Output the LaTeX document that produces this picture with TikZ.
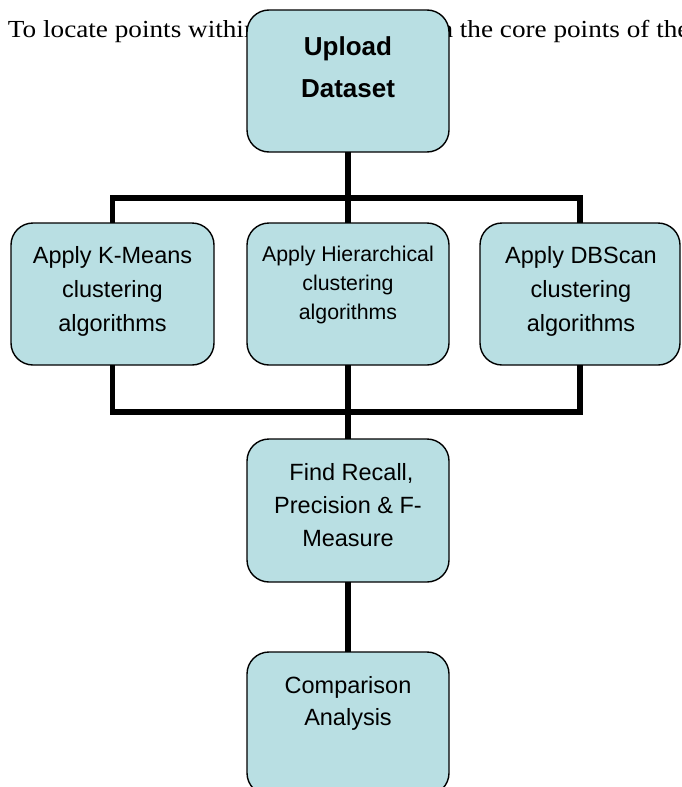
\documentclass[tikz,border=0pt]{standalone}
\usepackage{fontspec}
\setmainfont{Liberation Serif}
\newfontfamily\arialfont{Liberation Sans}
\newfontfamily\bodyfont[FakeStretch=1.11]{Liberation Serif}
\definecolor{boxfill}{RGB}{185,223,227}
\tikzset{
  box/.style={draw=black, line width=1.4pt, fill=boxfill, rounded corners=22pt,
    minimum width=202pt, minimum height=142pt, inner sep=0pt, outer sep=0pt},
  link/.style={line width=5.5pt, line join=miter, draw=black},
  lbl/.style={align=center, anchor=north, inner sep=0pt, outer sep=0pt},
  bodytext/.style={anchor=base west, inner sep=0pt, outer sep=0pt,
    font={\bodyfont\fontsize{24.5}{30}\selectfont}}
}
\begin{document}
\begin{tikzpicture}[x=1pt,y=-1pt]
\useasboundingbox (0,0) rectangle (681,787);
\clip (0,0) rectangle (681,787);
% running text behind the top box
\node[bodytext] (t1) at (8,37) {To locate points within};
\node[bodytext] (t2) at (439.5,37) {n the core points of the};
% boxes
\node[box] (up) at (348,81) {};
\node[box, minimum width=203pt] (km) at (112.5,294) {};
\node[box] (hi) at (348,294) {};
\node[box, minimum width=200pt] (db) at (580,294) {};
\node[box, minimum height=143pt] (fr) at (348,510.5) {};
\node[box, minimum height=143pt] (ca) at (348,723.5) {};
% labels
\node[lbl, font={\arialfont\bfseries\fontsize{26}{42}\selectfont}] (upt) at (348,36.4) {Upload\\Dataset};
\node[lbl, font={\arialfont\fontsize{23.5}{34}\selectfont}] (kmt) at (112.5,246.2) {Apply K-Means\\clustering\\algorithms};
\node[lbl, font={\arialfont\fontsize{21.3}{29}\selectfont}] (hit) at (348,246.2) {Apply Hierarchical\\clustering\\algorithms};
\node[lbl, font={\arialfont\fontsize{23.5}{34}\selectfont}] (dbt) at (581,246.2) {Apply DBScan\\clustering\\algorithms};
\node[lbl, font={\arialfont\fontsize{23.5}{33.3}\selectfont}] (frt) at (348,463.2) {\hspace*{7pt}Find Recall,\\Precision \& F-\\Measure};
\node[lbl, font={\arialfont\fontsize{23.5}{32}\selectfont}] (cat) at (348,676.2) {Comparison\\Analysis};
% connectors
\coordinate (top) at (348,198);
\coordinate (bot) at (348,412);
\draw[link] (up.south) -- (hi.north);
\draw[link] (km.north) |- (top) -| (db.north);
\draw[link] (km.south) |- (bot) -| (db.south);
\draw[link] (hi.south) -- (fr.north);
\draw[link] (fr.south) -- (ca.north);
\end{tikzpicture}
\end{document}
